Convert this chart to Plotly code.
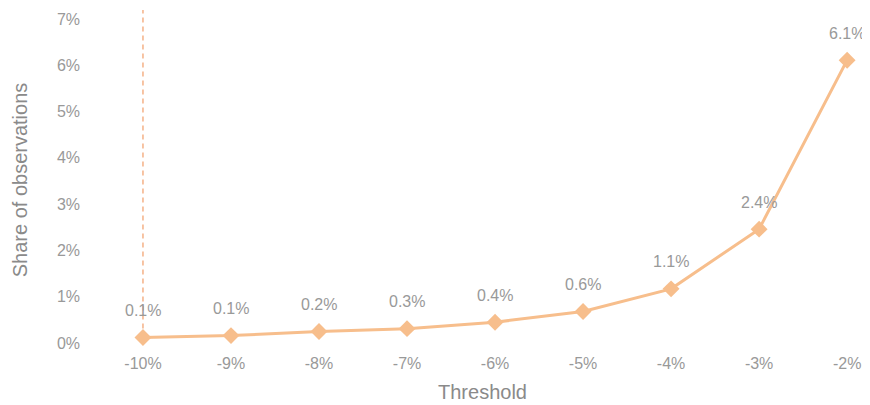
import plotly.graph_objects as go

# --- dados ---
thresholds = ['-10%', '-9%', '-8%', '-7%', '-6%', '-5%', '-4%', '-3%', '-2%']
share = [0.12, 0.16, 0.25, 0.31, 0.45, 0.68, 1.17, 2.46, 6.11]
share_labels = ['0.1%', '0.1%', '0.2%', '0.3%', '0.4%', '0.6%', '1.1%', '2.4%', '6.1%']
y_ticks = [0, 1, 2, 3, 4, 5, 6, 7]
y_tick_text = [f'{v}%' for v in y_ticks]

LINE_COLOR = '#F7BE8C'
TEXT_COLOR = '#999999'
TITLE_COLOR = '#8A8A8A'

fig = go.Figure()

fig.add_trace(go.Scatter(
    x=thresholds,
    y=share,
    mode='lines+markers',
    line=dict(color=LINE_COLOR, width=3),
    marker=dict(symbol='diamond', size=13, color=LINE_COLOR),
    hoverinfo='skip',
    showlegend=False,
))

# rótulos acima dos pontos
for x, y, t in zip(thresholds, share, share_labels):
    fig.add_annotation(x=x, y=y, text=t, showarrow=False, yshift=27,
                       font=dict(size=16, color=TEXT_COLOR))

# linha vertical tracejada no primeiro limiar
fig.add_shape(type='line', x0=thresholds[0], x1=thresholds[0], xref='x',
              y0=share[0], y1=7.22, yref='y',
              line=dict(color='#F3A574', width=1.3, dash='5px,4px'), layer='below')

# a página tem margem de 8px no body, por isso l/t compensados
fig.update_layout(
    width=870, height=405,
    margin=dict(l=87, r=8, t=2, b=63),
    plot_bgcolor='white', paper_bgcolor='white',
    font=dict(family='Liberation Sans, Arial, sans-serif', color=TEXT_COLOR, size=16),
    xaxis=dict(
        range=[-0.545, 8.26], showgrid=False, zeroline=False, showline=False,
        title=dict(text='Threshold', font=dict(size=20, color=TITLE_COLOR), standoff=13),
        ticklabelstandoff=2, automargin=False,
    ),
    yaxis=dict(
        range=[-0.151, 7.194], tickvals=y_ticks, ticktext=y_tick_text,
        showgrid=False, zeroline=False, showline=False,
        title=dict(text='Share of observations', font=dict(size=20, color=TITLE_COLOR), standoff=23),
        ticklabelstandoff=14, automargin=False,
    ),
)

fig.write_html("out.html")
